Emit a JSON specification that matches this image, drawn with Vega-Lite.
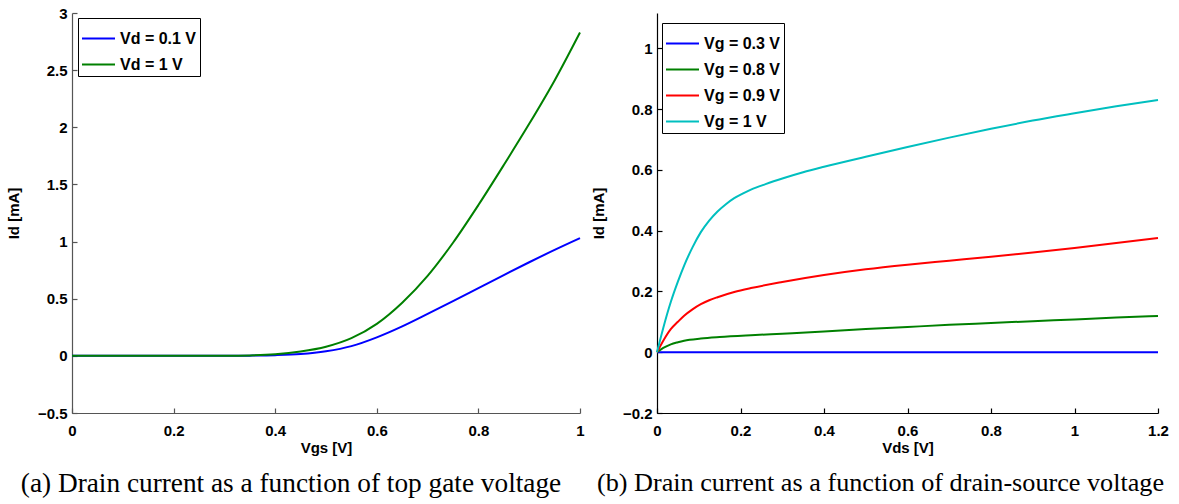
{
  "$schema": "https://vega.github.io/schema/vega-lite/v6.json",
  "background": "white",
  "padding": {"left": 6, "top": 6, "right": 5, "bottom": 0},
  "spacing": 77,
  "bounds": "flush",
  "config": {
    "view": {"stroke": null},
    "axis": {
      "grid": false,
      "labelFont": "Liberation Sans", "labelFontWeight": "bold", "labelFontSize": 15, "labelColor": "black",
      "titleFont": "Liberation Sans", "titleFontWeight": "bold", "titleFontSize": 15, "titleColor": "black",
      "tickSize": -5, "domainColor": "black", "tickColor": "black", "domainWidth": 1.2, "tickWidth": 1.2,
      "labelFlush": false, "labelOverlap": false
    },
    "axisY": {"labelPadding": 10, "titlePadding": 16},
    "axisX": {"labelPadding": 15, "titlePadding": 2},
    "legend": {
      "strokeColor": "black", "fillColor": "white", "padding": 3,
      "symbolType": "stroke", "symbolStrokeWidth": 2, "symbolSize": 1089,
      "labelFont": "Liberation Sans", "labelFontWeight": "bold", "labelFontSize": 16, "labelColor": "black",
      "rowPadding": 0, "labelOffset": 4
    },
    "title": {"font": "Liberation Serif", "fontSize": 27.3, "fontWeight": "normal", "color": "black", "orient": "bottom"}
  },
  "resolve": {"scale": {"color": "independent"}, "legend": {"color": "independent"}},
  "hconcat": [
    {
      "width": 508, "height": 400,
      "title": {"text": "(a) Drain current as a function of top gate voltage", "orient": "bottom", "offset": 15, "dx": -35},
      "data": {"values": [
        {"Vgs": 0, "Id": 0, "series": "Vd = 0.1 V"},
        {"Vgs": 0.1, "Id": 0, "series": "Vd = 0.1 V"},
        {"Vgs": 0.2, "Id": 0, "series": "Vd = 0.1 V"},
        {"Vgs": 0.3, "Id": 0.0005, "series": "Vd = 0.1 V"},
        {"Vgs": 0.35, "Id": 0.002, "series": "Vd = 0.1 V"},
        {"Vgs": 0.4, "Id": 0.006, "series": "Vd = 0.1 V"},
        {"Vgs": 0.45, "Id": 0.016, "series": "Vd = 0.1 V"},
        {"Vgs": 0.5, "Id": 0.04, "series": "Vd = 0.1 V"},
        {"Vgs": 0.55, "Id": 0.085, "series": "Vd = 0.1 V"},
        {"Vgs": 0.6, "Id": 0.162, "series": "Vd = 0.1 V"},
        {"Vgs": 0.65, "Id": 0.258, "series": "Vd = 0.1 V"},
        {"Vgs": 0.7, "Id": 0.367, "series": "Vd = 0.1 V"},
        {"Vgs": 0.75, "Id": 0.479, "series": "Vd = 0.1 V"},
        {"Vgs": 0.8, "Id": 0.593, "series": "Vd = 0.1 V"},
        {"Vgs": 0.85, "Id": 0.707, "series": "Vd = 0.1 V"},
        {"Vgs": 0.9, "Id": 0.819, "series": "Vd = 0.1 V"},
        {"Vgs": 0.95, "Id": 0.927, "series": "Vd = 0.1 V"},
        {"Vgs": 1.0, "Id": 1.03, "series": "Vd = 0.1 V"},
        {"Vgs": 0, "Id": 0, "series": "Vd = 1 V"},
        {"Vgs": 0.1, "Id": 0, "series": "Vd = 1 V"},
        {"Vgs": 0.2, "Id": 0, "series": "Vd = 1 V"},
        {"Vgs": 0.3, "Id": 0.001, "series": "Vd = 1 V"},
        {"Vgs": 0.35, "Id": 0.004, "series": "Vd = 1 V"},
        {"Vgs": 0.4, "Id": 0.014, "series": "Vd = 1 V"},
        {"Vgs": 0.45, "Id": 0.038, "series": "Vd = 1 V"},
        {"Vgs": 0.5, "Id": 0.08, "series": "Vd = 1 V"},
        {"Vgs": 0.55, "Id": 0.155, "series": "Vd = 1 V"},
        {"Vgs": 0.6, "Id": 0.28, "series": "Vd = 1 V"},
        {"Vgs": 0.65, "Id": 0.465, "series": "Vd = 1 V"},
        {"Vgs": 0.7, "Id": 0.7, "series": "Vd = 1 V"},
        {"Vgs": 0.75, "Id": 0.99, "series": "Vd = 1 V"},
        {"Vgs": 0.8, "Id": 1.32, "series": "Vd = 1 V"},
        {"Vgs": 0.85, "Id": 1.67, "series": "Vd = 1 V"},
        {"Vgs": 0.9, "Id": 2.03, "series": "Vd = 1 V"},
        {"Vgs": 0.95, "Id": 2.41, "series": "Vd = 1 V"},
        {"Vgs": 1.0, "Id": 2.83, "series": "Vd = 1 V"}
      ]},
      "mark": {"type": "line", "strokeWidth": 2, "interpolate": "monotone"},
      "encoding": {
        "x": {"field": "Vgs", "type": "quantitative", "scale": {"domain": [0, 1], "nice": false},
              "axis": {"title": "Vgs [V]", "values": [0, 0.2, 0.4, 0.6, 0.8, 1], "format": "~g", "domainColor": "#555555", "tickColor": "#555555"}},
        "y": {"field": "Id", "type": "quantitative", "scale": {"domain": [-0.5, 3], "nice": false},
              "axis": {"title": "Id [mA]", "values": [-0.5, 0, 0.5, 1, 1.5, 2, 2.5, 3], "format": "~g", "domainColor": "#555555", "tickColor": "#555555"}},
        "color": {"field": "series", "type": "nominal",
                  "scale": {"domain": ["Vd = 0.1 V", "Vd = 1 V"], "range": ["#0000ff", "#008000"]},
                  "legend": {"title": null, "orient": "none", "legendX": 6, "legendY": 5}}
      }
    },
    {
      "width": 501, "height": 400,
      "title": {"text": "(b) Drain current as a function of drain-source voltage", "orient": "bottom", "offset": 15, "dx": -27, "fontSize": 26.2},
      "data": {"values": [
        {"Vds": 0, "Id": 0, "series": "Vg = 0.3 V"},
        {"Vds": 0.6, "Id": 0, "series": "Vg = 0.3 V"},
        {"Vds": 1.2, "Id": 0, "series": "Vg = 0.3 V"},
        {"Vds": 0, "Id": 0, "series": "Vg = 0.8 V"},
        {"Vds": 0.015, "Id": 0.014, "series": "Vg = 0.8 V"},
        {"Vds": 0.033, "Id": 0.026, "series": "Vg = 0.8 V"},
        {"Vds": 0.05, "Id": 0.033, "series": "Vg = 0.8 V"},
        {"Vds": 0.065, "Id": 0.038, "series": "Vg = 0.8 V"},
        {"Vds": 0.105, "Id": 0.045, "series": "Vg = 0.8 V"},
        {"Vds": 0.15, "Id": 0.05, "series": "Vg = 0.8 V"},
        {"Vds": 0.225, "Id": 0.056, "series": "Vg = 0.8 V"},
        {"Vds": 0.3, "Id": 0.061, "series": "Vg = 0.8 V"},
        {"Vds": 0.4, "Id": 0.068, "series": "Vg = 0.8 V"},
        {"Vds": 0.5, "Id": 0.076, "series": "Vg = 0.8 V"},
        {"Vds": 0.6, "Id": 0.083, "series": "Vg = 0.8 V"},
        {"Vds": 0.7, "Id": 0.09, "series": "Vg = 0.8 V"},
        {"Vds": 0.8, "Id": 0.096, "series": "Vg = 0.8 V"},
        {"Vds": 0.9, "Id": 0.102, "series": "Vg = 0.8 V"},
        {"Vds": 1.0, "Id": 0.108, "series": "Vg = 0.8 V"},
        {"Vds": 1.1, "Id": 0.114, "series": "Vg = 0.8 V"},
        {"Vds": 1.2, "Id": 0.119, "series": "Vg = 0.8 V"},
        {"Vds": 0, "Id": 0, "series": "Vg = 0.9 V"},
        {"Vds": 0.015, "Id": 0.038, "series": "Vg = 0.9 V"},
        {"Vds": 0.033, "Id": 0.076, "series": "Vg = 0.9 V"},
        {"Vds": 0.05, "Id": 0.1, "series": "Vg = 0.9 V"},
        {"Vds": 0.065, "Id": 0.12, "series": "Vg = 0.9 V"},
        {"Vds": 0.085, "Id": 0.141, "series": "Vg = 0.9 V"},
        {"Vds": 0.105, "Id": 0.158, "series": "Vg = 0.9 V"},
        {"Vds": 0.125, "Id": 0.171, "series": "Vg = 0.9 V"},
        {"Vds": 0.145, "Id": 0.181, "series": "Vg = 0.9 V"},
        {"Vds": 0.185, "Id": 0.198, "series": "Vg = 0.9 V"},
        {"Vds": 0.225, "Id": 0.211, "series": "Vg = 0.9 V"},
        {"Vds": 0.3, "Id": 0.231, "series": "Vg = 0.9 V"},
        {"Vds": 0.4, "Id": 0.254, "series": "Vg = 0.9 V"},
        {"Vds": 0.5, "Id": 0.273, "series": "Vg = 0.9 V"},
        {"Vds": 0.6, "Id": 0.288, "series": "Vg = 0.9 V"},
        {"Vds": 0.7, "Id": 0.301, "series": "Vg = 0.9 V"},
        {"Vds": 0.8, "Id": 0.314, "series": "Vg = 0.9 V"},
        {"Vds": 0.9, "Id": 0.328, "series": "Vg = 0.9 V"},
        {"Vds": 1.0, "Id": 0.343, "series": "Vg = 0.9 V"},
        {"Vds": 1.1, "Id": 0.359, "series": "Vg = 0.9 V"},
        {"Vds": 1.2, "Id": 0.376, "series": "Vg = 0.9 V"},
        {"Vds": 0, "Id": 0, "series": "Vg = 1 V"},
        {"Vds": 0.015, "Id": 0.08, "series": "Vg = 1 V"},
        {"Vds": 0.033, "Id": 0.165, "series": "Vg = 1 V"},
        {"Vds": 0.05, "Id": 0.232, "series": "Vg = 1 V"},
        {"Vds": 0.065, "Id": 0.285, "series": "Vg = 1 V"},
        {"Vds": 0.085, "Id": 0.345, "series": "Vg = 1 V"},
        {"Vds": 0.105, "Id": 0.395, "series": "Vg = 1 V"},
        {"Vds": 0.125, "Id": 0.433, "series": "Vg = 1 V"},
        {"Vds": 0.145, "Id": 0.463, "series": "Vg = 1 V"},
        {"Vds": 0.165, "Id": 0.487, "series": "Vg = 1 V"},
        {"Vds": 0.185, "Id": 0.507, "series": "Vg = 1 V"},
        {"Vds": 0.205, "Id": 0.522, "series": "Vg = 1 V"},
        {"Vds": 0.225, "Id": 0.535, "series": "Vg = 1 V"},
        {"Vds": 0.26, "Id": 0.553, "series": "Vg = 1 V"},
        {"Vds": 0.304, "Id": 0.573, "series": "Vg = 1 V"},
        {"Vds": 0.35, "Id": 0.592, "series": "Vg = 1 V"},
        {"Vds": 0.4, "Id": 0.61, "series": "Vg = 1 V"},
        {"Vds": 0.5, "Id": 0.643, "series": "Vg = 1 V"},
        {"Vds": 0.6, "Id": 0.675, "series": "Vg = 1 V"},
        {"Vds": 0.7, "Id": 0.706, "series": "Vg = 1 V"},
        {"Vds": 0.8, "Id": 0.735, "series": "Vg = 1 V"},
        {"Vds": 0.9, "Id": 0.762, "series": "Vg = 1 V"},
        {"Vds": 1.0, "Id": 0.786, "series": "Vg = 1 V"},
        {"Vds": 1.1, "Id": 0.809, "series": "Vg = 1 V"},
        {"Vds": 1.2, "Id": 0.83, "series": "Vg = 1 V"}
      ]},
      "mark": {"type": "line", "strokeWidth": 2, "interpolate": "monotone"},
      "encoding": {
        "x": {"field": "Vds", "type": "quantitative", "scale": {"domain": [0, 1.2], "nice": false},
              "axis": {"title": "Vds [V]", "values": [0, 0.2, 0.4, 0.6, 0.8, 1, 1.2], "format": "~g"}},
        "y": {"field": "Id", "type": "quantitative", "scale": {"domain": [-0.2, 1.116], "nice": false},
              "axis": {"title": "Id [mA]", "values": [-0.2, 0, 0.2, 0.4, 0.6, 0.8, 1], "format": "~g"}},
        "color": {"field": "series", "type": "nominal",
                  "scale": {"domain": ["Vg = 0.3 V", "Vg = 0.8 V", "Vg = 0.9 V", "Vg = 1 V"], "range": ["#0000ff", "#008000", "#ff0000", "#00bfbf"]},
                  "legend": {"title": null, "orient": "none", "legendX": 5, "legendY": 10}}
      }
    }
  ]
}
